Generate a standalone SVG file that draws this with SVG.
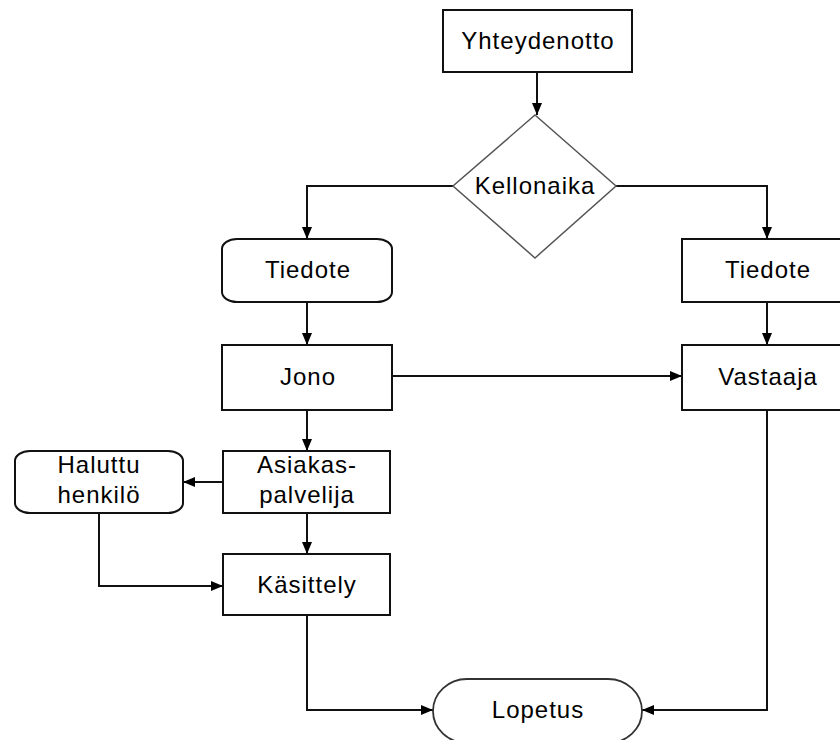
<svg xmlns="http://www.w3.org/2000/svg" width="840" height="740" viewBox="0 0 840 740">
<defs>
<marker id="ah" markerUnits="userSpaceOnUse" markerWidth="12" markerHeight="10" refX="12" refY="5" orient="auto">
<path d="M0,0 L12,5 L0,10 z" fill="#000"/>
</marker>
<style>
.box{fill:#fff;stroke:#111;stroke-width:2}
.dia{fill:#fff;stroke:#555;stroke-width:1.5}
.term{fill:#fff;stroke:#333;stroke-width:1.8}
.lbl{font-family:"Liberation Sans",Arial,sans-serif;font-size:24px;letter-spacing:1px;text-anchor:middle;fill:#000}
.con{fill:none;stroke:#111;stroke-width:2;marker-end:url(#ah)}
</style>
</defs>
<rect width="840" height="740" fill="#fff"/>
<g id="connectors">
<path class="con" d="M537,72 V115"/>
<path class="con" d="M453,186 H307 V239"/>
<path class="con" d="M616,186 H767 V239"/>
<path class="con" d="M307,302 V345"/>
<path class="con" d="M767,302 V345"/>
<path class="con" d="M392,376 H682"/>
<path class="con" d="M307,410 V451"/>
<path class="con" d="M223,482 H183"/>
<path class="con" d="M307,513 V554"/>
<path class="con" d="M99,513 V586 H223"/>
<path class="con" d="M307,615 V710 H433"/>
<path class="con" d="M767,410 V710 H642"/>
</g>
<g id="yhteydenotto">
<rect class="box" x="443" y="10" width="189" height="62"/>
<text class="lbl" x="538" y="49">Yhteydenotto</text>
</g>
<g id="kellonaika">
<polygon class="dia" points="535,115 616,186 535,258 453,186"/>
<text class="lbl" x="535" y="194">Kellonaika</text>
</g>
<g id="tiedote-left">
<rect class="box" x="222" y="239" width="170" height="63" rx="15" ry="10"/>
<text class="lbl" x="308" y="278">Tiedote</text>
</g>
<g id="tiedote-right">
<rect class="box" x="682" y="239" width="170" height="63"/>
<text class="lbl" x="768" y="278">Tiedote</text>
</g>
<g id="jono">
<rect class="box" x="222" y="345" width="170" height="65"/>
<text class="lbl" x="308" y="385">Jono</text>
</g>
<g id="vastaaja">
<rect class="box" x="682" y="345" width="170" height="65"/>
<text class="lbl" x="768" y="385">Vastaaja</text>
</g>
<g id="asiakaspalvelija">
<rect class="box" x="223" y="451" width="167" height="62"/>
<text class="lbl" x="307" y="473">Asiakas-</text>
<text class="lbl" x="307" y="503">palvelija</text>
</g>
<g id="haluttu">
<rect class="box" x="15" y="451" width="168" height="62" rx="15" ry="10"/>
<text class="lbl" x="99" y="473">Haluttu</text>
<text class="lbl" x="99" y="503">henkilö</text>
</g>
<g id="kasittely">
<rect class="box" x="223" y="554" width="167" height="61"/>
<text class="lbl" x="307" y="593">Käsittely</text>
</g>
<g id="lopetus">
<rect class="term" x="433" y="679" width="209" height="64" rx="34" ry="32"/>
<text class="lbl" x="538" y="718">Lopetus</text>
</g>
</svg>
